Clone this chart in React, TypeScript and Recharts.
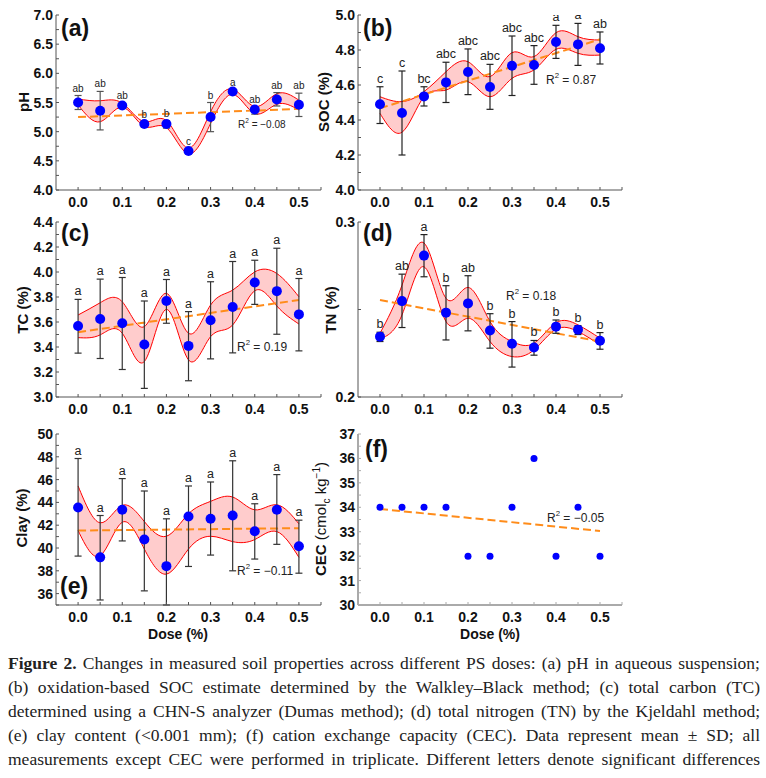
import React from 'react'
import { ComposedChart, Area, Line, Scatter, ErrorBar, XAxis, YAxis } from 'recharts'

const doses = [0, 0.05, 0.1, 0.15, 0.2, 0.25, 0.3, 0.35, 0.4, 0.45, 0.5]

// (a) pH
const phMean = [5.5, 5.36, 5.45, 5.13, 5.13, 4.67, 5.25, 5.69, 5.38, 5.55, 5.46]
const phBarHi = [5.62, 5.69, 5.49, 5.17, 5.19, 4.71, 5.5, 5.72, 5.43, 5.67, 5.66]
const phBarLo = [5.38, 5.03, 5.42, 5.08, 5.06, 4.63, 5.0, 5.66, 5.3, 5.44, 5.26]
const phBandHi = [5.56, 5.53, 5.49, 5.17, 5.19, 4.72, 5.34, 5.73, 5.43, 5.65, 5.54]
const phBandLo = [5.46, 5.17, 5.42, 5.09, 5.07, 4.62, 5.14, 5.64, 5.31, 5.47, 5.37]
const phLetters = ['ab', 'ab', 'ab', 'b', 'b', 'c', 'b', 'a', 'ab', 'ab', 'ab']
const phTrend = [5.25, 5.39]

// (b) SOC
const socMean = [4.49, 4.44, 4.535, 4.615, 4.674, 4.589, 4.71, 4.714, 4.846, 4.832, 4.81]
const socBarHi = [4.59, 4.68, 4.59, 4.73, 4.806, 4.718, 4.88, 4.825, 4.941, 4.952, 4.903]
const socBarLo = [4.38, 4.2, 4.48, 4.5, 4.545, 4.461, 4.54, 4.604, 4.752, 4.712, 4.72]
const socBandHi = [4.533, 4.505, 4.562, 4.676, 4.733, 4.648, 4.785, 4.762, 4.899, 4.876, 4.857]
const socBandLo = [4.438, 4.33, 4.533, 4.571, 4.619, 4.533, 4.638, 4.686, 4.804, 4.781, 4.771]
const socLetters = ['c', 'c', 'bc', 'abc', 'abc', 'abc', 'abc', 'abc', 'a', 'a', 'ab']
const socTrend = [4.467, 4.861]

// (c) TC
const tcMean = [3.568, 3.624, 3.59, 3.42, 3.768, 3.409, 3.614, 3.72, 3.916, 3.847, 3.661]
const tcBarHi = [3.781, 3.943, 3.956, 3.768, 3.94, 3.683, 3.922, 4.084, 4.094, 4.19, 3.948]
const tcBarLo = [3.351, 3.308, 3.22, 3.069, 3.59, 3.13, 3.305, 3.353, 3.741, 3.502, 3.369]
const tcBandHi = [3.656, 3.754, 3.762, 3.563, 3.829, 3.51, 3.736, 3.855, 4.001, 3.988, 3.802]
const tcBandLo = [3.475, 3.497, 3.51, 3.284, 3.701, 3.297, 3.483, 3.576, 3.85, 3.728, 3.584]
const tcLetters = ['a', 'a', 'a', 'a', 'a', 'a', 'a', 'a', 'a', 'a', 'a']
const tcTrend = [3.518, 3.776]

// (d) TN
const tnMean = [0.2345, 0.2548, 0.2808, 0.2482, 0.2535, 0.238, 0.2304, 0.2283, 0.2402, 0.2385, 0.2321]
const tnBarHi = [0.237, 0.2702, 0.2928, 0.2636, 0.2693, 0.2476, 0.2431, 0.2323, 0.244, 0.2408, 0.2368]
const tnBarLo = [0.2317, 0.2397, 0.2687, 0.2326, 0.2378, 0.2279, 0.2171, 0.2239, 0.2364, 0.2357, 0.2273]
const tnBandHi = [0.2364, 0.2639, 0.288, 0.2564, 0.2626, 0.2431, 0.2317, 0.2307, 0.2425, 0.2412, 0.2336]
const tnBandLo = [0.2332, 0.2469, 0.2744, 0.2431, 0.245, 0.2317, 0.2231, 0.2269, 0.2387, 0.2374, 0.2298]
const tnLetters = ['b', 'ab', 'a', 'b', 'ab', 'b', 'b', 'b', 'b', 'b', 'b']
const tnTrend = [0.2554, 0.2317]

// (e) Clay
const clayMean = [43.56, 39.18, 43.35, 40.74, 38.41, 42.76, 42.56, 42.85, 41.47, 43.35, 40.15]
const clayBarHi = [47.85, 42.85, 46.09, 45.0, 42.56, 45.44, 45.79, 47.65, 43.88, 46.44, 42.44]
const clayBarLo = [39.29, 35.44, 40.62, 36.24, 35.0, 38.38, 39.38, 38.0, 39.03, 40.32, 37.79]
const clayBandHi = [45.44, 42.21, 43.74, 42.32, 41.03, 43.0, 44.09, 44.47, 43.35, 43.79, 42.12]
const clayBandLo = [41.53, 39.32, 42.26, 39.91, 37.71, 39.91, 41.03, 40.56, 40.74, 41.44, 39.18]
const clayLetters = ['a', 'a', 'a', 'a', 'a', 'a', 'a', 'a', 'a', 'a', 'a']
const clayTrend = [41.53, 41.74]

// (f) CEC
const cecValues = [34, 34, 34, 34, 32, 32, 34, 36, 32, 34, 32]
const cecTrend = [33.93, 33.03]

// axis ticks
const xTicks = [0, 0.05, 0.1, 0.15, 0.2, 0.25, 0.3, 0.35, 0.4, 0.45, 0.5, 0.55]
const phTicks = [4.0, 4.5, 5.0, 5.5, 6.0, 6.5, 7.0]
const socTicks = [4.0, 4.2, 4.4, 4.6, 4.8, 5.0]
const tcTicks = [3.0, 3.2, 3.4, 3.6, 3.8, 4.0, 4.2, 4.4]
const tnTicks = [0.2, 0.3]
const clayTicks = [36, 38, 40, 42, 44, 46, 48, 50]
const cecTicks = [30, 31, 32, 33, 34, 35, 36, 37]

const SANS = '"Liberation Sans", Arial, sans-serif'

type PanelProps = {
  plotLeft: number
  plotTop: number
  plotW: number
  plotH: number
  domain: [number, number]
  major: number[]
  minor: number[]
  decimals: number
  mean: number[]
  barHi?: number[]
  barLo?: number[]
  bandHi?: number[]
  bandLo?: number[]
  letters?: string[]
  trend: number[]
  letterSize?: number
  barColor?: string
  axisColor?: string
  axisWidth?: number
  pointR?: number
}

const Panel = ({
  plotLeft, plotTop, plotW, plotH, domain, major, minor, decimals,
  mean, barHi, barLo, bandHi, bandLo, letters, trend,
  letterSize = 12, barColor = '#222', axisColor = '#555', axisWidth = 1, pointR = 5
}: PanelProps) => {
  const yAxisW = 56
  const width = yAxisW + plotW + 15
  const height = 10 + plotH + 40

  const rows = doses.map((d, i) => ({
    x: d,
    band: bandHi && bandLo ? [bandLo[i], bandHi[i]] : undefined
  }))
  const points = doses.map((d, i) => ({
    x: d,
    y: mean[i],
    err: barHi && barLo ? [mean[i] - barLo[i], barHi[i] - mean[i]] : [0, 0]
  }))
  const letterPts = letters && barHi
    ? doses.map((d, i) => ({ x: d, y: barHi[i], letter: letters[i] }))
    : []
  const trendPts = [
    { x: doses[0], y: trend[0] },
    { x: doses[doses.length - 1], y: trend[1] }
  ]

  const yTicks = [...major, ...minor].sort((a, b) => a - b)
  const isMajor = (v: number) => major.some(m => Math.abs(m - v) < 1e-9)

  const XTick = (props: any) => {
    const { x, y, payload } = props
    const v = payload.value
    const lab = Math.abs(v * 10 - Math.round(v * 10)) < 1e-6 && v < 0.51
    return (
      <g>
        <line x1={x} x2={x} y1={y} y2={y - 3} stroke={axisColor} strokeWidth={1} />
        {lab && (
          <text x={x} y={y + 12} textAnchor="middle" dominantBaseline="central"
            fontFamily={SANS} fontWeight="bold" fontSize={14} fill="#111">
            {v.toFixed(1)}
          </text>
        )}
      </g>
    )
  }

  const YTick = (props: any) => {
    const { x, y, payload } = props
    const v = payload.value
    return (
      <g>
        <line x1={x} x2={x + 3} y1={y} y2={y} stroke={axisColor} strokeWidth={1} />
        {isMajor(v) && (
          <text x={x - 3} y={y} textAnchor="end" dominantBaseline="central"
            fontFamily={SANS} fontWeight="bold" fontSize={14} fill="#111">
            {v.toFixed(decimals)}
          </text>
        )}
      </g>
    )
  }

  return (
    <div style={{ position: 'absolute', left: plotLeft - yAxisW, top: plotTop - 10 }}>
      <ComposedChart width={width} height={height} data={rows}
        margin={{ top: 10, right: 15, bottom: 0, left: 0 }}>
        <XAxis type="number" dataKey="x" domain={[-0.05, 0.55]} ticks={xTicks} interval={0}
          tick={<XTick />} tickLine={false} tickSize={0} tickMargin={0} height={40}
          axisLine={{ stroke: axisColor, strokeWidth: axisWidth }} />
        <YAxis type="number" domain={domain} ticks={yTicks} interval={0} allowDataOverflow
          tick={<YTick />} tickLine={false} tickSize={0} tickMargin={0} width={yAxisW}
          axisLine={{ stroke: axisColor, strokeWidth: axisWidth }} />
        {bandHi && (
          <Area dataKey="band" type="natural" stroke="#ff0000" strokeWidth={1}
            fill="#ff0000" fillOpacity={0.2} isAnimationActive={false} dot={false} activeDot={false} />
        )}
        <Line data={trendPts} dataKey="y" stroke="#ff8c1a" strokeWidth={2} strokeDasharray="8 4"
          dot={false} activeDot={false} isAnimationActive={false} />
        <Scatter data={points} dataKey="y" isAnimationActive={false}
          shape={(p: any) => <circle cx={p.cx} cy={p.cy} r={pointR} fill="#0000ff" />}>
          {barHi && (
            <ErrorBar dataKey="err" direction="y" width={3.5} stroke={barColor} strokeWidth={1.2} />
          )}
        </Scatter>
        {letterPts.length > 0 && (
          <Scatter data={letterPts} dataKey="y" isAnimationActive={false}
            shape={(p: any) => (
              <text x={p.cx} y={p.cy - 4} textAnchor="middle" fontFamily={SANS}
                fontSize={letterSize} fill="#222">{p.payload.letter}</text>
            )} />
        )}
      </ComposedChart>
    </div>
  )
}

const midTicks = (m: number[]) => m.slice(0, -1).map((v, i) => (v + m[i + 1]) / 2)

const abs = (left: number, top: number, extra: React.CSSProperties = {}): React.CSSProperties => ({
  position: 'absolute', left, top, fontFamily: SANS, whiteSpace: 'nowrap', lineHeight: 1, ...extra
})

const YTitle = ({ cx, cy, children }: { cx: number; cy: number; children: React.ReactNode }) => (
  <div style={abs(cx, cy, {
    transform: 'translate(-50%, -50%) rotate(-90deg)', fontWeight: 'bold', fontSize: 15, color: '#111'
  })}>{children}</div>
)

const PanelTag = ({ x, y, text }: { x: number; y: number; text: string }) => (
  <div style={abs(x, y - 20, { fontWeight: 'bold', fontSize: 23, color: '#111' })}>{text}</div>
)

const R2 = ({ x, y, text, size = 12 }: { x: number; y: number; text: string; size?: number }) => (
  <div style={abs(x, y - size / 2, { fontSize: size, color: '#222' })}>
    R<sup style={{ fontSize: size * 0.65, verticalAlign: 'top', position: 'relative', top: -2 }}>2</sup> = {text}
  </div>
)

const captionLines: React.ReactNode[] = [
  <><b>Figure 2.</b> Changes in measured soil properties across different PS doses: (a) pH in aqueous suspension;</>,
  <>(b) oxidation-based SOC estimate determined by the Walkley–Black method; (c) total carbon (TC)</>,
  <>determined using a CHN-S analyzer (Dumas method); (d) total nitrogen (TN) by the Kjeldahl method;</>,
  <>(e) clay content (&lt;0.001 mm); (f) cation exchange capacity (CEC). Data represent mean ± SD; all</>,
  <>measurements except CEC were performed in triplicate. Different letters denote significant differences</>
]

export default function App() {
  return (
    <div style={{ position: 'absolute', left: 0, top: 0, width: 766, height: 778, background: '#fff', overflow: 'hidden' }}>
      <Panel plotLeft={56} plotTop={15} plotW={265} plotH={175} domain={[4, 7]}
        major={phTicks} minor={midTicks(phTicks)} decimals={1}
        mean={phMean} barHi={phBarHi} barLo={phBarLo} bandHi={phBandHi} bandLo={phBandLo}
        letters={phLetters} trend={phTrend} letterSize={10} barColor="#555" />
      <Panel plotLeft={358} plotTop={15} plotW={264} plotH={175} domain={[4, 5]}
        major={socTicks} minor={midTicks(socTicks)} decimals={1}
        mean={socMean} barHi={socBarHi} barLo={socBarLo} bandHi={socBandHi} bandLo={socBandLo}
        letters={socLetters} trend={socTrend} letterSize={12.5} />
      <Panel plotLeft={56} plotTop={222} plotW={265} plotH={175} domain={[3, 4.4]}
        major={tcTicks} minor={midTicks(tcTicks)} decimals={1}
        mean={tcMean} barHi={tcBarHi} barLo={tcBarLo} bandHi={tcBandHi} bandLo={tcBandLo}
        letters={tcLetters} trend={tcTrend} letterSize={12.5} barColor="#333" />
      <Panel plotLeft={358} plotTop={222} plotW={264} plotH={175} domain={[0.2, 0.3]}
        major={tnTicks} minor={midTicks(tnTicks)} decimals={1}
        mean={tnMean} barHi={tnBarHi} barLo={tnBarLo} bandHi={tnBandHi} bandLo={tnBandLo}
        letters={tnLetters} trend={tnTrend} letterSize={12.5} />
      <Panel plotLeft={56} plotTop={434} plotW={265} plotH={171} domain={[35, 50]}
        major={clayTicks} minor={[35, 37, 39, 41, 43, 45, 47, 49]} decimals={0}
        mean={clayMean} barHi={clayBarHi} barLo={clayBarLo} bandHi={clayBandHi} bandLo={clayBandLo}
        letters={clayLetters} trend={clayTrend} letterSize={12.5} barColor="#333" />
      <Panel plotLeft={358} plotTop={434} plotW={264} plotH={171} domain={[30, 37]}
        major={cecTicks} minor={midTicks(cecTicks)} decimals={0}
        mean={cecValues} trend={cecTrend} pointR={3.5} axisColor="#aaa" axisWidth={2} />

      <YTitle cx={23} cy={102}>pH</YTitle>
      <YTitle cx={323} cy={102}>SOC (%)</YTitle>
      <YTitle cx={22} cy={310}>TC (%)</YTitle>
      <YTitle cx={330} cy={310}>TN (%)</YTitle>
      <YTitle cx={21} cy={518}>Clay (%)</YTitle>
      <YTitle cx={322} cy={519}>
        CEC <span style={{ fontWeight: 'normal' }}>(cmol<sub style={{ fontSize: 10 }}>c</sub> kg<sup style={{ fontSize: 10 }}>−1</sup>)</span>
      </YTitle>

      <div style={abs(178, 634, { transform: 'translate(-50%, -50%)', fontWeight: 'bold', fontSize: 14, color: '#111' })}>Dose (%)</div>
      <div style={abs(490, 634, { transform: 'translate(-50%, -50%)', fontWeight: 'bold', fontSize: 14, color: '#111' })}>Dose (%)</div>

      <PanelTag x={61} y={37} text="(a)" />
      <PanelTag x={363} y={37} text="(b)" />
      <PanelTag x={61} y={242} text="(c)" />
      <PanelTag x={363} y={242} text="(d)" />
      <PanelTag x={60} y={595} text="(e)" />
      <PanelTag x={365} y={458} text="(f)" />

      <R2 x={238} y={125} text="−0.08" size={10} />
      <R2 x={546} y={80} text="0.87" />
      <R2 x={237} y={347} text="0.19" />
      <R2 x={506} y={296} text="0.18" />
      <R2 x={237} y={571} text="−0.11" />
      <R2 x={547} y={518} text="−0.05" />

      <div style={{ position: 'absolute', left: 8, top: 651, width: 752, fontFamily: '"Liberation Serif", "DejaVu Serif", serif', fontSize: 17.5, color: '#222' }}>
        {captionLines.map((l, i) => (
          <div key={i} style={{ height: 24, lineHeight: '24px', textAlign: 'justify', textAlignLast: 'justify', whiteSpace: 'nowrap' }}>{l}</div>
        ))}
      </div>
    </div>
  )
}
